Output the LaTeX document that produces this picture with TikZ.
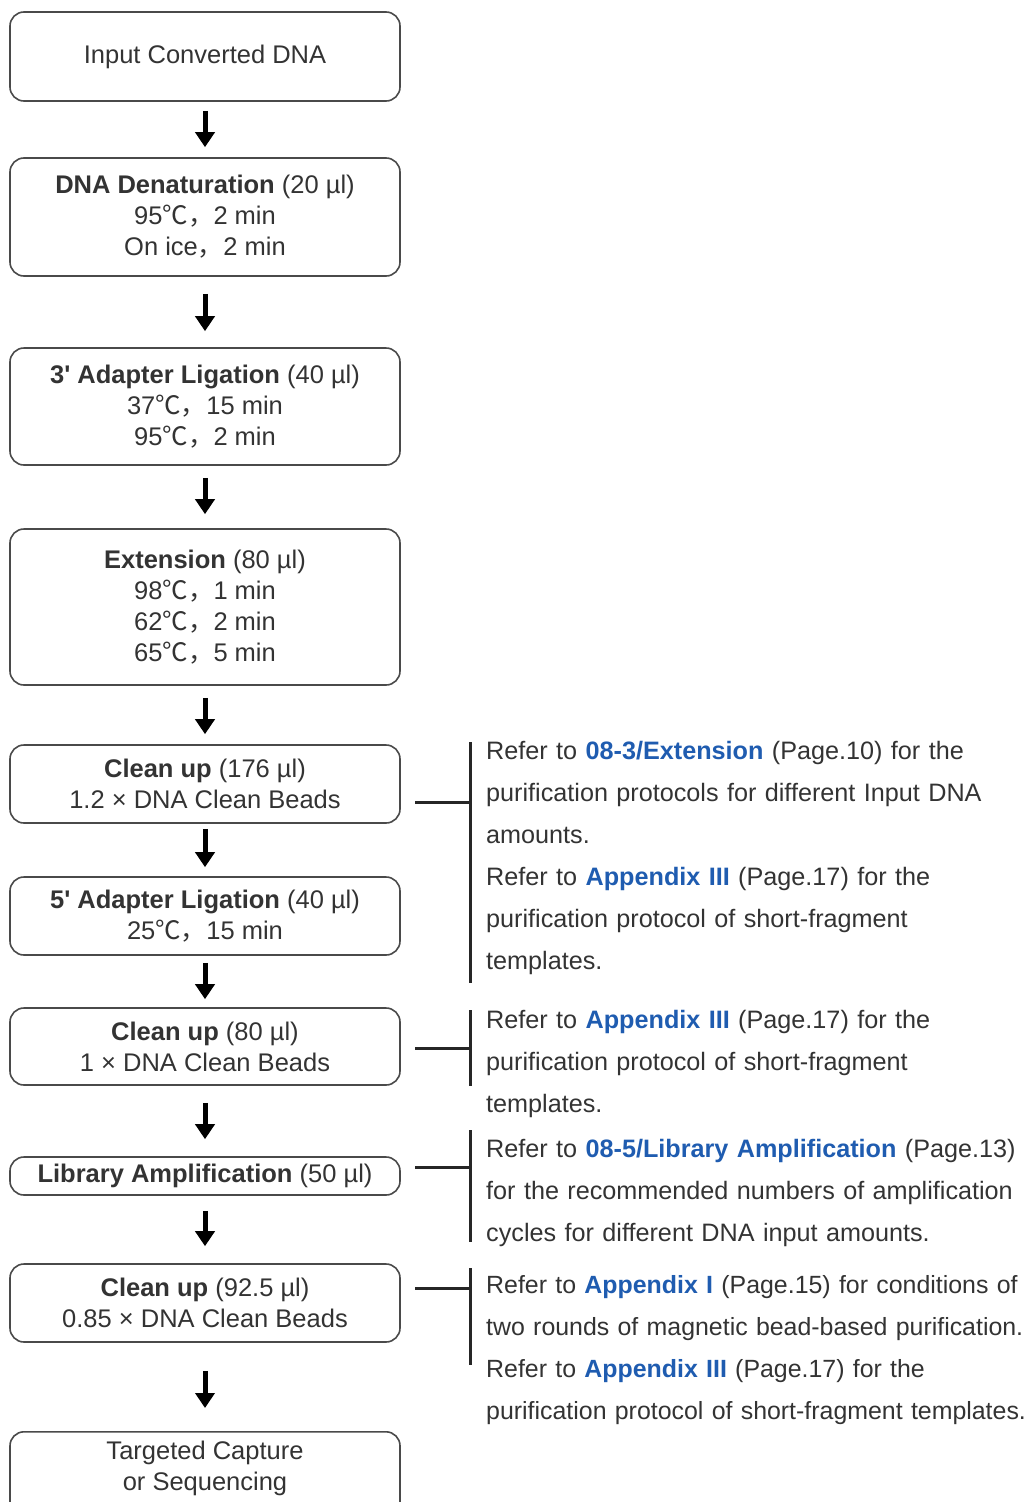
\documentclass[tikz,border=0pt]{standalone}
\usepackage{fontspec}
\setmainfont{Liberation Sans}[Ligatures=TeXOff]
\newfontfamily\cjk{Noto Sans CJK SC}
\usetikzlibrary{arrows.meta}
\definecolor{txt}{HTML}{333333}
\definecolor{lnk}{HTML}{1F5CB0}
\definecolor{edgec}{HTML}{4A4A4A}
\newcommand{\dgc}{{\cjk ℃，}}
\newcommand{\fwc}{{\cjk ，}}
\newcommand{\lk}[1]{\textcolor{lnk}{\textbf{#1}}}
\begin{document}
\begin{tikzpicture}[x=1pt,y=-1pt,
  box/.style={draw=edgec, line width=1.6pt, rounded corners=14pt, minimum width=390pt, inner sep=0pt, align=center, text=txt, font=\fontsize{25.5}{31}\selectfont},
  boxtext/.style={inner sep=0pt, align=center, text=txt, font=\fontsize{25.5}{31}\selectfont},
  flow/.style={line width=5pt, draw=black, -{Triangle[width=19pt,length=15pt]}},
  brk/.style={line width=3pt, draw=black!85},
  note/.style={anchor=base west, inner sep=0pt, text width=600pt, align=left, text=txt, font=\fontsize{25.2}{42}\selectfont},
  note4/.style={note, font=\fontsize{24.9}{42}\selectfont}
]
\useasboundingbox (0,0) rectangle (1029,1502);
\clip (0,0) rectangle (1029,1502);

\node[box, minimum height=89pt] (b1) at (205,56.5) {Input Converted DNA};
\node[box, minimum height=118pt] (b2) at (205,217) {\textbf{DNA Denaturation} (20 µl)\\95\dgc 2 min\\On ice\fwc 2 min};
\node[box, minimum height=117pt] (b3) at (205,406.5) {\textbf{3' Adapter Ligation} (40 µl)\\37\dgc 15 min\\95\dgc 2 min};
\node[box, minimum height=156pt] (b4) at (205,607) {\textbf{Extension} (80 µl)\\98\dgc 1 min\\62\dgc 2 min\\65\dgc 5 min};
\node[box, minimum height=78pt] (b5) at (205,784) {\textbf{Clean up} (176 µl)\\1.2 × DNA Clean Beads};
\node[box, minimum height=78pt] (b6) at (205,916) {\textbf{5' Adapter Ligation} (40 µl)\\25\dgc 15 min};
\node[box, minimum height=77pt] (b7) at (205,1046.5) {\textbf{Clean up} (80 µl)\\1 × DNA Clean Beads};
\node[box, minimum height=38pt] (b8) at (205,1176) {\textbf{Library Amplification} (50 µl)};
\node[box, minimum height=78pt] (b9) at (205,1303) {\textbf{Clean up} (92.5 µl)\\0.85 × DNA Clean Beads};
\node[box, minimum height=130pt, anchor=north] (b10) at (205,1431) {};
\node[boxtext] (t10) at (205,1468) {Targeted Capture\\or Sequencing};

\draw[flow, shorten <=9pt, shorten >=10pt] (b1) -- (b2);
\draw[flow, shorten <=17pt, shorten >=16pt] (b2) -- (b3);
\draw[flow, shorten <=12pt, shorten >=14pt] (b3) -- (b4);
\draw[flow, shorten <=12pt, shorten >=10pt] (b4) -- (b5);
\draw[flow, shorten <=5pt, shorten >=9pt] (b5) -- (b6);
\draw[flow, shorten <=7pt, shorten >=8pt] (b6) -- (b7);
\draw[flow, shorten <=17pt, shorten >=17pt] (b7) -- (b8);
\draw[flow, shorten <=15pt, shorten >=17pt] (b8) -- (b9);
\draw[flow, shorten <=28pt, shorten >=23pt] (b9) -- (b10);

% brackets
\coordinate (h1) at (415,802); \coordinate (k1) at (470,802);
\coordinate (v1t) at (470,742); \coordinate (v1b) at (470,983);
\coordinate (h2) at (415,1048); \coordinate (k2) at (470,1048);
\coordinate (v2t) at (470,1010); \coordinate (v2b) at (470,1086);
\coordinate (h3) at (415,1167); \coordinate (k3) at (470,1167);
\coordinate (v3t) at (470,1130); \coordinate (v3b) at (470,1242);
\coordinate (h4) at (415,1288); \coordinate (k4) at (470,1288);
\coordinate (v4t) at (470,1268); \coordinate (v4b) at (470,1365);
\draw[brk] (h1) -- (k1); \draw[brk] (v1t) -- (v1b);
\draw[brk] (h2) -- (k2); \draw[brk] (v2t) -- (v2b);
\draw[brk] (h3) -- (k3); \draw[brk] (v3t) -- (v3b);
\draw[brk] (h4) -- (k4); \draw[brk] (v4t) -- (v4b);

\node[note] (n1) at (486,759) {Refer to \lk{08-3/Extension} (Page.10) for the\\purification protocols for different Input DNA\\amounts.\\Refer to \lk{Appendix III} (Page.17) for the\\purification protocol of short-fragment\\templates.};
\node[note] (n2) at (486,1028) {Refer to \lk{Appendix III} (Page.17) for the\\purification protocol of short-fragment\\templates.};
\node[note] (n3) at (486,1157) {Refer to \lk{08-5/Library Amplification} (Page.13)\\for the recommended numbers of amplification\\cycles for different DNA input amounts.};
\node[note4] (n4) at (486,1293) {Refer to \lk{Appendix I} (Page.15) for conditions of\\two rounds of magnetic bead-based purification.\\Refer to \lk{Appendix III} (Page.17) for the\\purification protocol of short-fragment templates.};
\end{tikzpicture}
\end{document}
